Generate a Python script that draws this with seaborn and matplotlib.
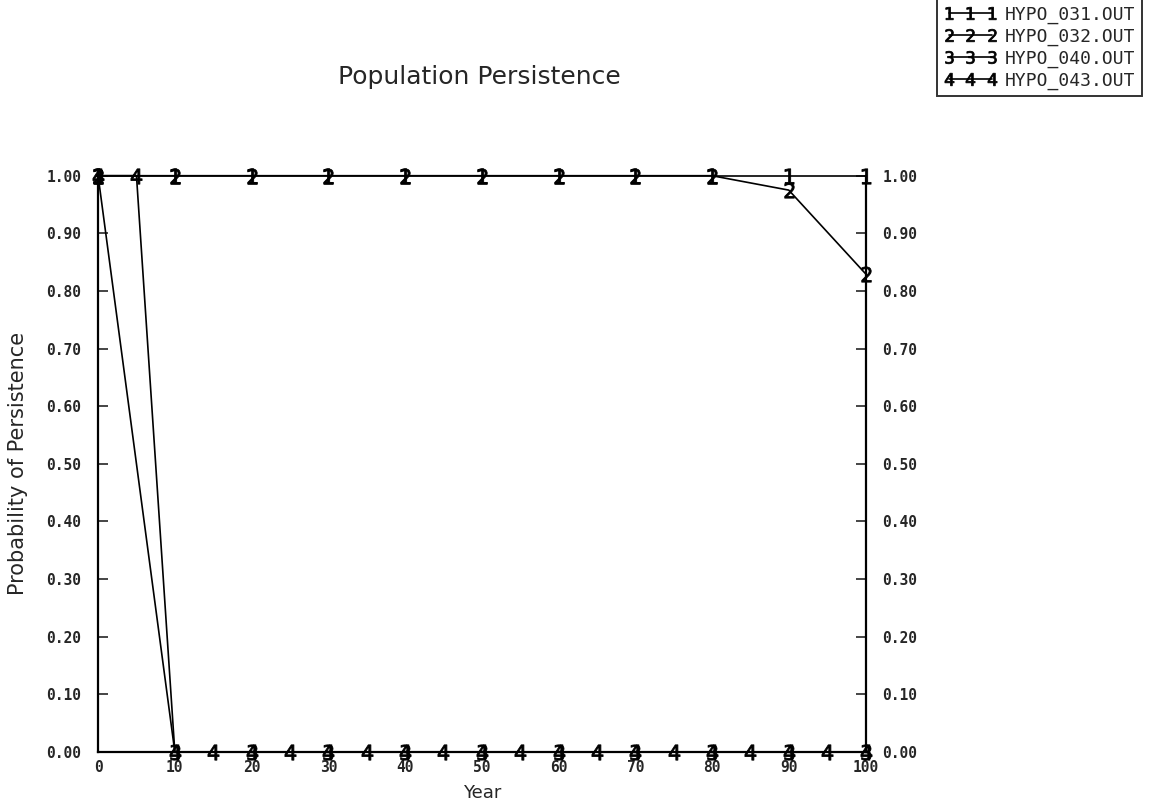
import matplotlib
matplotlib.use("Agg")
import matplotlib.pyplot as plt
import seaborn as sns
import pandas as pd
import numpy as np

# ---- data ----
years_10 = [0, 10, 20, 30, 40, 50, 60, 70, 80, 90, 100]
years_5 = [0, 5, 10, 15, 20, 25, 30, 35, 40, 45, 50, 55, 60, 65, 70, 75, 80, 85, 90, 95, 100]
hypo_031 = [1.0, 1.0, 1.0, 1.0, 1.0, 1.0, 1.0, 1.0, 1.0, 1.0, 1.0]
hypo_032 = [1.0, 1.0, 1.0, 1.0, 1.0, 1.0, 1.0, 1.0, 1.0, 0.975, 0.83]
hypo_040 = [1.0, 0.0, 0.0, 0.0, 0.0, 0.0, 0.0, 0.0, 0.0, 0.0, 0.0]
hypo_043 = [1.0, 1.0, 0.0, 0.0, 0.0, 0.0, 0.0, 0.0, 0.0, 0.0, 0.0,
            0.0, 0.0, 0.0, 0.0, 0.0, 0.0, 0.0, 0.0, 0.0, 0.0]
series_names = ["HYPO_031.OUT", "HYPO_032.OUT", "HYPO_040.OUT", "HYPO_043.OUT"]
series_marks = ["1", "2", "3", "4"]
y_ticks = [0.0, 0.1, 0.2, 0.3, 0.4, 0.5, 0.6, 0.7, 0.8, 0.9, 1.0]
x_ticks = [0, 10, 20, 30, 40, 50, 60, 70, 80, 90, 100]

frames = []
for name, xs, ys in zip(series_names,
                        [years_10, years_10, years_10, years_5],
                        [hypo_031, hypo_032, hypo_040, hypo_043]):
    frames.append(pd.DataFrame({"Year": xs, "Prob": ys, "Series": name}))
df = pd.concat(frames, ignore_index=True)

sns.set_theme(style="white")
plt.rcParams["font.family"] = ["DejaVu Sans"]

fig = plt.figure(figsize=(11.54, 8.06), dpi=100)
ax = fig.add_axes([0.085, 0.067, 0.665, 0.715])

mono = {"family": "DejaVu Sans Mono", "weight": "bold", "size": 10.5}

for name, mk in zip(series_names, series_marks):
    sub = df[df["Series"] == name]
    sns.lineplot(data=sub, x="Year", y="Prob", ax=ax, color="black",
                 linewidth=1.2, marker=f"${mk}$", markersize=11,
                 markeredgewidth=0.6, markerfacecolor="black",
                 markeredgecolor="black", label=name, clip_on=False,
                 estimator=None, sort=False)

ax.set_xlim(0, 100)
ax.set_ylim(0, 1)
ax.set_xticks(x_ticks)
ax.set_xticklabels([str(v) for v in x_ticks], fontdict=mono)
ax.set_yticks(y_ticks)
ax.set_yticklabels([f"{v:.2f}" for v in y_ticks], fontdict=mono)
ax.tick_params(axis="y", direction="in", length=7, width=1.2, left=True,
               right=True, labelleft=True, labelright=True, pad=12)
ax.tick_params(axis="x", length=0, pad=6)
for lbl in ax.get_yticklabels() + ax.get_xticklabels():
    lbl.set_fontfamily("DejaVu Sans Mono")
    lbl.set_fontweight("bold")
    lbl.set_fontsize(10.5)

for side in ["left", "right", "bottom"]:
    ax.spines[side].set_visible(True)
    ax.spines[side].set_color("black")
    ax.spines[side].set_linewidth(1.6)
ax.spines["top"].set_visible(False)

ax.set_xlabel("Year", fontsize=13, labelpad=6)
ax.set_ylabel("Probability of Persistence", fontsize=15, labelpad=13)

fig.text(0.415, 0.905, "Population Persistence", fontsize=18,
         ha="center", va="center")

ax.get_legend().remove()
handles, labels = ax.get_legend_handles_labels()
leg = fig.legend(handles, labels, loc="upper right",
                 bbox_to_anchor=(0.997, 1.012), numpoints=3,
                 frameon=True, fancybox=False, handlelength=3.0,
                 handletextpad=0.4, borderpad=0.35, labelspacing=0.2,
                 prop={"family": "DejaVu Sans Mono", "size": 13})
leg.get_frame().set_edgecolor("black")
leg.get_frame().set_linewidth(1.4)
for h in leg.legend_handles:
    h.set_markersize(9)

fig.savefig("out.png", dpi=100, facecolor="white")
